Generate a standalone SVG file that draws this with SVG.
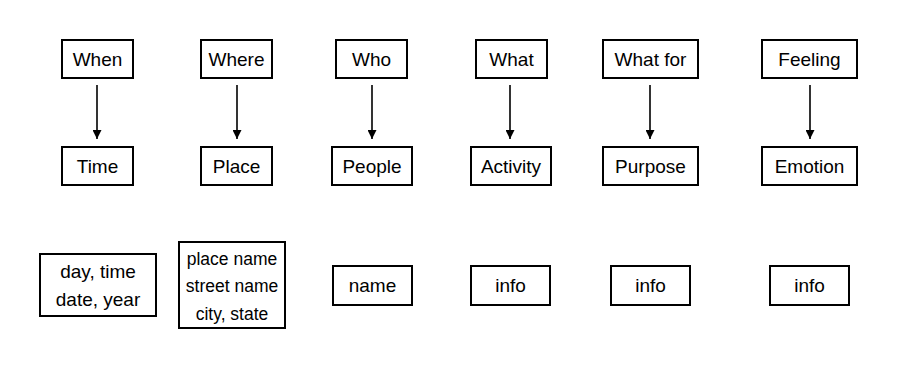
<svg xmlns="http://www.w3.org/2000/svg" width="922" height="375" viewBox="0 0 922 375">
<defs>
<style>
.b{fill:#fff;stroke:#000;stroke-width:2}
.t{font-family:"Liberation Sans",Arial,sans-serif;font-size:19px;fill:#000;text-anchor:middle;dominant-baseline:central}
.s{font-size:17.5px}
.c{stroke:#000;stroke-width:1.6;fill:none}
</style>
<marker id="ah" viewBox="0 0 10 10" refX="10" refY="5" markerWidth="9" markerHeight="9" markerUnits="userSpaceOnUse" orient="auto">
<path d="M0,0L10,5L0,10z" fill="#000"/>
</marker>
</defs>
<rect width="922" height="375" fill="#fff"/>
<g id="connectors">
<line class="c" x1="97" y1="85" x2="97" y2="139" marker-end="url(#ah)"/>
<line class="c" x1="237" y1="85" x2="237" y2="139" marker-end="url(#ah)"/>
<line class="c" x1="372" y1="85" x2="372" y2="139" marker-end="url(#ah)"/>
<line class="c" x1="510" y1="85" x2="510" y2="139" marker-end="url(#ah)"/>
<line class="c" x1="650" y1="85" x2="650" y2="139" marker-end="url(#ah)"/>
<line class="c" x1="810" y1="85" x2="810" y2="139" marker-end="url(#ah)"/>
</g>
<g id="when"><rect class="b" x="62" y="40" width="71" height="38"/><text class="t" x="97.5" y="59">When</text></g>
<g id="where"><rect class="b" x="201" y="40" width="71" height="38"/><text class="t" x="236.5" y="59">Where</text></g>
<g id="who"><rect class="b" x="336" y="40" width="71" height="38"/><text class="t" x="371.5" y="59">Who</text></g>
<g id="what"><rect class="b" x="476" y="40" width="71" height="38"/><text class="t" x="511.5" y="59">What</text></g>
<g id="whatfor"><rect class="b" x="603" y="40" width="95" height="38"/><text class="t" x="650.5" y="59">What for</text></g>
<g id="feeling"><rect class="b" x="762" y="40" width="95" height="38"/><text class="t" x="809.5" y="59">Feeling</text></g>

<g id="time"><rect class="b" x="62" y="147" width="71" height="38"/><text class="t" x="97.5" y="166">Time</text></g>
<g id="place"><rect class="b" x="201" y="147" width="71" height="38"/><text class="t" x="236.5" y="166">Place</text></g>
<g id="people"><rect class="b" x="332" y="147" width="80" height="38"/><text class="t" x="372" y="166">People</text></g>
<g id="activity"><rect class="b" x="471" y="147" width="80" height="38"/><text class="t" x="511" y="166">Activity</text></g>
<g id="purpose"><rect class="b" x="603" y="147" width="95" height="38"/><text class="t" x="650.5" y="166">Purpose</text></g>
<g id="emotion"><rect class="b" x="762" y="147" width="95" height="38"/><text class="t" x="809.5" y="166">Emotion</text></g>

<g id="daytime"><rect class="b" x="40" y="254" width="116" height="62"/><text class="t" x="98" y="271">day, time</text><text class="t" x="98" y="299">date, year</text></g>
<g id="placename"><rect class="b" x="179" y="242" width="106" height="86"/><text class="t s" x="232" y="259">place name</text><text class="t s" x="232" y="286">street name</text><text class="t s" x="232" y="314">city, state</text></g>
<g id="name"><rect class="b" x="333" y="266" width="79" height="39"/><text class="t" x="372.5" y="285.5">name</text></g>
<g id="info1"><rect class="b" x="471" y="266" width="79" height="39"/><text class="t" x="510.5" y="285.5">info</text></g>
<g id="info2"><rect class="b" x="611" y="266" width="79" height="39"/><text class="t" x="650.5" y="285.5">info</text></g>
<g id="info3"><rect class="b" x="770" y="266" width="79" height="39"/><text class="t" x="809.5" y="285.5">info</text></g>
</svg>
